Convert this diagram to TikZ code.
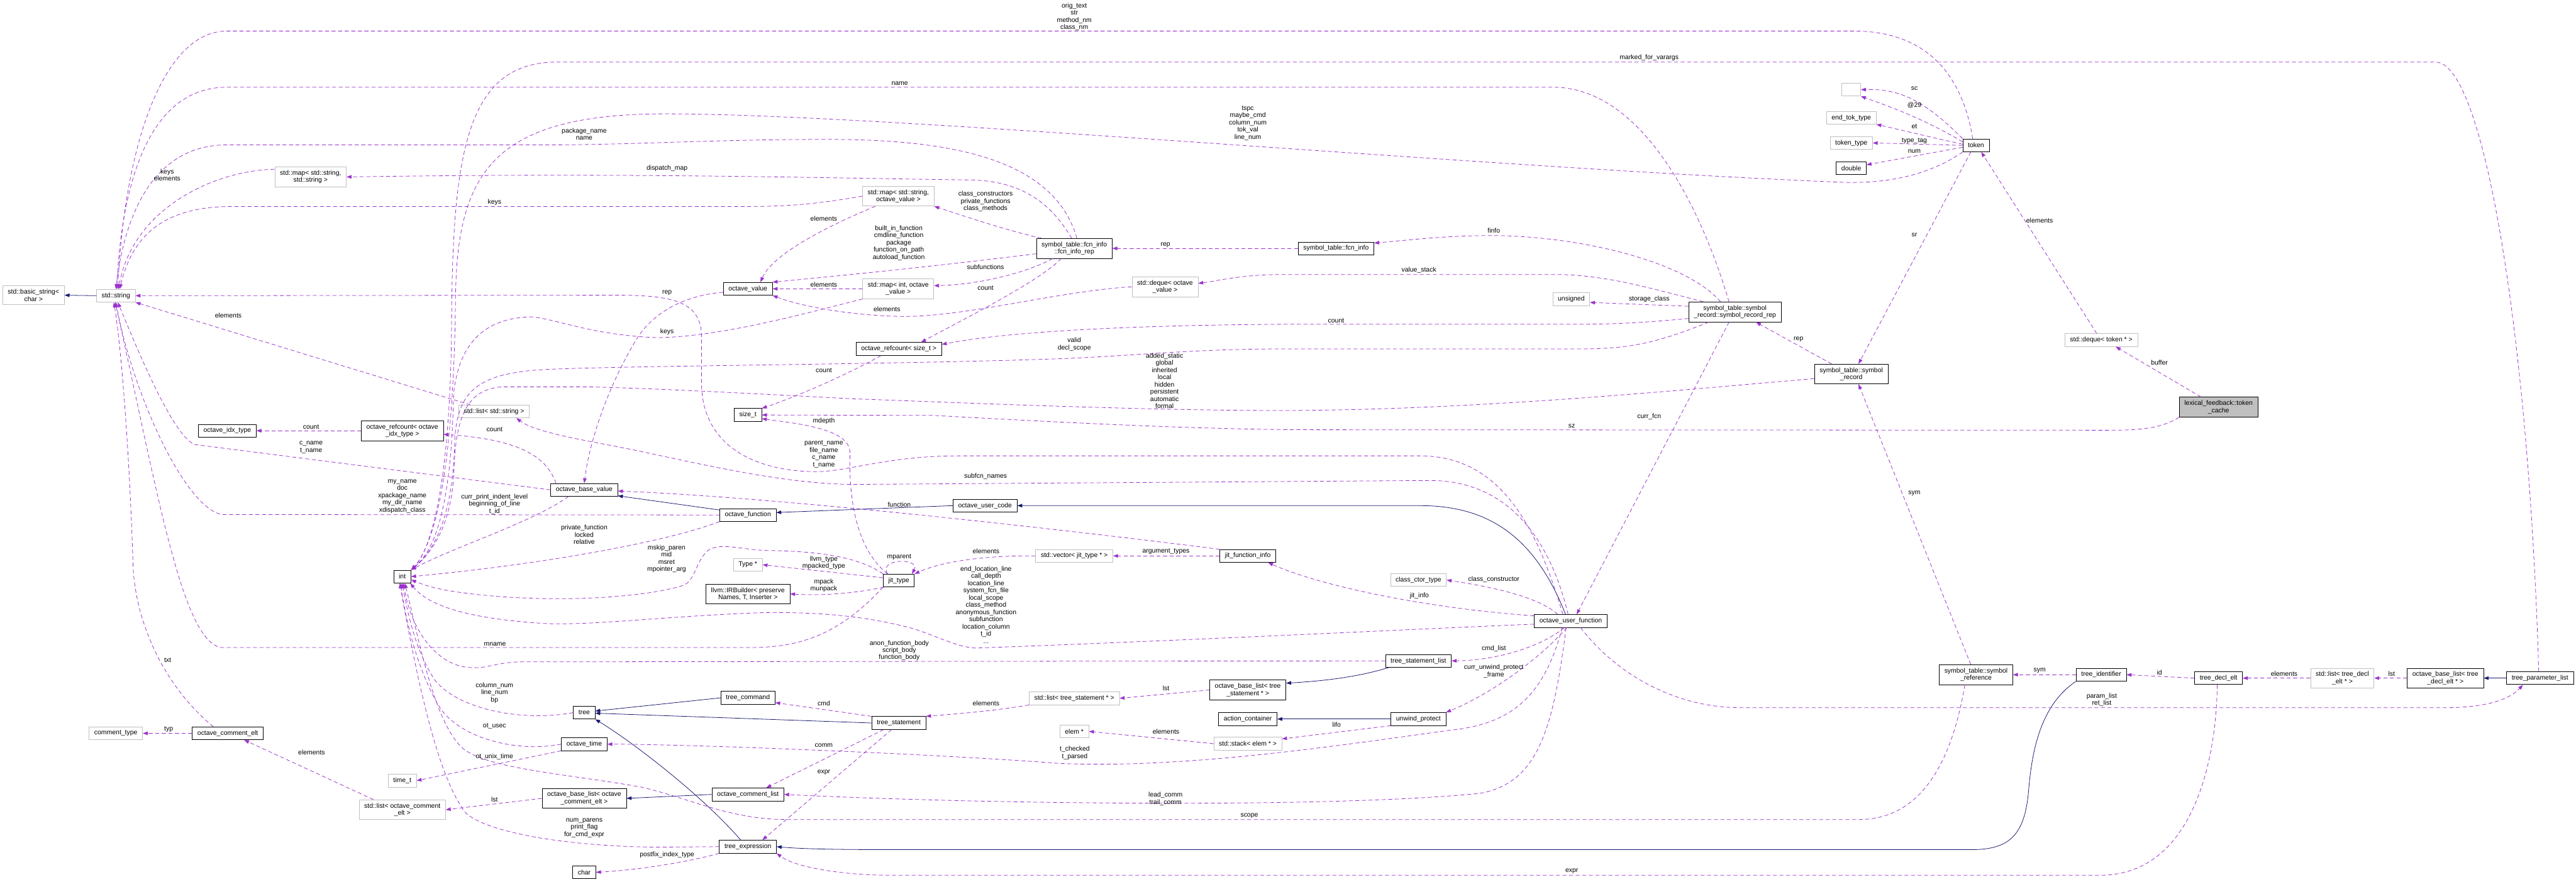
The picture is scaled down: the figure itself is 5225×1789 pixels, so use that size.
\documentclass[tikz,border=0pt]{standalone}
\usepackage{fontspec}
\setmainfont{Liberation Sans}
\usetikzlibrary{arrows.meta}
\definecolor{orchidedge}{HTML}{9A32CD}
\definecolor{navyedge}{HTML}{191970}
\definecolor{greyseventyfive}{HTML}{BFBFBF}
\tikzset{every picture/.style={line width=0.75pt}}
\tikzset{
  docbox/.style={draw=black, fill=white, align=center, font=\fontsize{10}{11}\selectfont, inner xsep=7.8pt, inner ysep=5pt, minimum height=19.5pt},
  extbox/.style={docbox, draw=greyseventyfive},
  rootbox/.style={docbox, fill=greyseventyfive},
  member/.style={draw=orchidedge, dash pattern=on 6pt off 4pt, -{Triangle[length=7.5pt,width=5.4pt]}},
  inherit/.style={draw=navyedge, -{Triangle[length=7.5pt,width=5.4pt]}},
  edgelbl/.style={align=center, font=\fontsize{10}{11}\selectfont, inner sep=0pt},
}

\begin{document}
\begin{tikzpicture}[x=0.75pt,y=0.75pt,yscale=-1,xscale=1]
%set diagram left start at 0, and has height of 1789
\path[fill=white] (0,0) rectangle (5225,1789);
\useasboundingbox (0,0) rectangle (5225,1789);

%Shape: Rectangle [classes, left part]
\node[extbox] (bstr) at (68,599) {std::basic\_string<\\char >};
\node[extbox] (str) at (235,600) {std::string};
\node[extbox] (mapss) at (630,359) {std::map< std::string,\\std::string >};
\node[extbox] (lststr) at (1002,835) {std::list< std::string >};
\node[docbox] (idxt) at (461,874) {octave\_idx\_type};
\node[docbox] (rcidx) at (816,874) {octave\_refcount< octave\\\_idx\_type >};
\node[docbox] (obv) at (1185,994) {octave\_base\_value};
\node[docbox] (inttype) at (816,1170) {int};
\node[extbox] (cmtype) at (235,1488) {comment\_type};
\node[docbox] (cmelt) at (462,1488) {octave\_comment\_elt};
\node[extbox] (timet) at (816,1584) {time\_t};
\node[extbox] (lstcm) at (816,1643) {std::list< octave\_comment\\\_elt >};
\node[docbox] (oblcm) at (1185,1620) {octave\_base\_list< octave\\\_comment\_elt >};
\node[docbox] (tree) at (1185,1446) {tree};
\node[docbox] (otime) at (1185,1510) {octave\_time};
\node[docbox] (chr) at (1185,1770) {char};

%Shape: Rectangle [classes, middle part]
\node[extbox] (mapsov) at (1822,398) {std::map< std::string,\\octave\_value >};
\node[docbox] (fir) at (2179,504) {symbol\_table::fcn\_info\\::fcn\_info\_rep};
\node[docbox] (ov) at (1517,586) {octave\_value};
\node[extbox] (mapiov) at (1822,586) {std::map< int, octave\\\_value >};
\node[extbox] (dqov) at (2363,582) {std::deque< octave\\\_value >};
\node[docbox] (rcsz) at (1823,708) {octave\_refcount< size\_t >};
\node[docbox] (sizet) at (1517,842) {size\_t};
\node[docbox] (ouc) at (1998,1026) {octave\_user\_code};
\node[docbox] (ofn) at (1517,1045) {octave\_function};
\node[extbox] (typep) at (1517,1146) {Type *};
\node[docbox] (jit) at (1823,1178) {jit\_type};
\node[extbox] (vecjit) at (2179,1128) {std::vector< jit\_type * >};
\node[docbox] (jfi) at (2531,1128) {jit\_function\_info};
\node[docbox] (irb) at (1517,1205) {llvm::IRBuilder< preserve\\Names, T, Inserter >};
\node[docbox] (tcmd) at (1517,1416) {tree\_command};
\node[docbox] (tstmt) at (1823,1467) {tree\_statement};
\node[extbox] (lststmt) at (2179,1417) {std::list< tree\_statement * >};
\node[docbox] (oblstmt) at (2531,1400) {octave\_base\_list< tree\\\_statement * >};
\node[docbox] (actc) at (2531,1459) {action\_container};
\node[extbox] (elem) at (2179,1484) {elem *};
\node[extbox] (stk) at (2531,1509) {std::stack< elem * >};
\node[docbox] (ocl) at (1517,1612) {octave\_comment\_list};
\node[docbox] (texpr) at (1517,1718) {tree\_expression};

%Shape: Rectangle [classes, right part]
\node[docbox] (fi) at (2710,504) {symbol\_table::fcn\_info};
\node[extbox] (unsig) at (3187,607) {unsigned};
\node[extbox, minimum width=28.5pt] (blank) at (3755,182) {};
\node[extbox] (endtok) at (3755,239) {end\_tok\_type};
\node[extbox] (toktype) at (3755,290) {token\_type};
\node[docbox] (dbl) at (3755,341) {double};
\node[docbox] (token) at (4008,295) {token};
\node[docbox] (srr) at (3519,633) {symbol\_table::symbol\\\_record::symbol\_record\_rep};
\node[docbox] (symrec) at (3755,759) {symbol\_table::symbol\\\_record};
\node[extbox] (dqtok) at (4262,690) {std::deque< token * >};
\node[rootbox] (tcache) at (4500,826) {lexical\_feedback::token\\\_cache};
\node[extbox] (cctor) at (2877,1177) {class\_ctor\_type};
\node[docbox] (ouf) at (3186,1260) {octave\_user\_function};
\node[docbox] (tsl) at (2877,1341) {tree\_statement\_list};
\node[docbox] (unw) at (2877,1459) {unwind\_protect};
\node[docbox] (symref) at (4008,1369) {symbol\_table::symbol\\\_reference};
\node[docbox] (tid) at (4262,1369) {tree\_identifier};
\node[docbox] (tde) at (4500,1376) {tree\_decl\_elt};
\node[extbox] (lstde) at (4751,1376) {std::list< tree\_decl\\\_elt * >};
\node[docbox] (oblde) at (4960,1376) {octave\_base\_list< tree\\\_decl\_elt * >};
\node[docbox] (tpl) at (5152,1376) {tree\_parameter\_list};

%Straight Lines [inheritance]
\draw[inherit] (str.west) -- (bstr.east);
\draw[inherit] (ofn.170) -- (obv.-10);
\draw[inherit] (ouc.west) -- (ofn.5);
\draw[inherit] ([xshift=-8pt]ouf.north) .. controls (3110,1080) and (3010,1026) .. (2880,1026) -- (ouc.east);
\draw[inherit] (tcmd.west) -- (tree.8);
\draw[inherit] (tstmt.west) -- (tree.-3);
\draw[inherit] ([xshift=-11pt]texpr.north) .. controls (1430,1620) and (1290,1510) .. (tree.south east);
\draw[inherit] (tid.south west) .. controls (4140,1430) and (4122,1520) .. (4115,1600) .. controls (4108,1690) and (4080,1724) .. (4000,1724) -- (1800,1724) .. controls (1680,1724) and (1620,1722) .. (texpr.east);
\draw[inherit] (tpl.west) -- (oblde.east);
\draw[inherit] ([xshift=-45pt]tsl.south) .. controls (2750,1375) and (2680,1382) .. (oblstmt.10);
\draw[inherit] (unw.west) -- (actc.east);
\draw[inherit] (ocl.west) -- (oblcm.east);

%Curve Lines [members, to std::string]
\draw[member] ([xshift=-5pt]token.north) .. controls (3985,180) and (3930,63) .. (3760,63) -- (460,63) .. controls (330,63) and (252,300) .. ([xshift=3pt]str.north);
\draw[member] ([xshift=-9pt]srr.north) .. controls (3450,420) and (3330,177) .. (3150,177) -- (460,177) .. controls (320,177) and (250,330) .. ([xshift=1pt]str.north);
\draw[member] ([xshift=4pt]fir.north) .. controls (2140,330) and (1950,285) .. (1700,283) .. controls (1450,282) and (1300,294) .. (1100,294) -- (460,294) .. controls (320,294) and (255,420) .. (str.north);
\draw[member] (mapss.168) .. controls (440,345) and (270,420) .. ([xshift=4pt]str.north);
\draw[member] (mapsov.west) .. controls (1650,415) and (1600,419) .. (1500,419) -- (470,419) .. controls (330,419) and (268,480) .. ([xshift=6pt]str.north);
\draw[member] ([xshift=-12pt]ouf.north) .. controls (3120,1080) and (3050,925) .. (2880,925) -- (1944,925) .. controls (1800,925) and (1720,957) .. (1656,957) .. controls (1540,957) and (1425,910) .. (1423,780) -- (1423,680) .. controls (1421,610) and (1360,599) .. (1250,599) -- (str.east);
\draw[member] ([xshift=-36pt]lststr.north) -- (str.south east);
\draw[member] (obv.west) -- (395,902) .. controls (350,885) and (275,700) .. ([xshift=3pt]str.south);
\draw[member] (ofn.west) -- (450,1044) .. controls (375,1030) and (270,800) .. (str.south);
\draw[member] ([xshift=-22pt]cmelt.north) .. controls (330,1390) and (275,1260) .. (270,1150) .. controls (262,900) and (245,700) .. ([xshift=-3pt]str.south);
\draw[member] (jit.south west) .. controls (1700,1290) and (1620,1314) .. (1520,1314) -- (450,1314) .. controls (370,1305) and (320,1000) .. ([xshift=-1pt]str.south);
\draw[member] ([xshift=-4pt]fir.north) .. controls (2130,410) and (2070,365) .. (1960,365) .. controls (1700,362) and (1300,350) .. (mapss.east);

%Curve Lines [members, to int]
\draw[member] ([xshift=-2pt]tpl.north) .. controls (5130,700) and (5040,126) .. (4940,126) -- (1130,126) .. controls (950,126) and (918,300) .. (916,650) .. controls (914,1000) and (870,1120) .. (inttype.north east);
\draw[member] (token.south west) .. controls (3900,365) and (3800,372) .. (3740,370) .. controls (3000,340) and (1800,231) .. (1350,231) .. controls (1000,231) and (928,350) .. (924,600) .. controls (920,1000) and (872,1115) .. (inttype.north east);
\draw[member] ([xshift=-40pt]srr.south) .. controls (3350,700) and (3300,708) .. (3194,708) -- (2600,708) .. controls (2420,708) and (2300,722) .. (2148,728) .. controls (1800,740) and (1250,742) .. (1102,750) .. controls (960,758) and (926,800) .. (922,900) .. controls (919,1050) and (878,1120) .. (inttype.north east);
\draw[member] (symrec.187) .. controls (3400,792) and (3000,832) .. (2600,833) .. controls (2300,833) and (1900,815) .. (1724,809) .. controls (1500,797) and (1300,787) .. (1187,785) -- (1018,785) .. controls (950,790) and (925,840) .. (921,950) .. controls (918,1060) and (878,1120) .. (inttype.north east);
\draw[member] (mapiov.south west) .. controls (1620,640) and (1450,685) .. (1330,685) .. controls (1200,680) and (1120,645) .. (1077,643) .. controls (980,645) and (930,700) .. (920,800) .. controls (915,1050) and (876,1120) .. (inttype.north east);
\draw[member] ([xshift=-24pt]obv.south) .. controls (1080,1060) and (920,1110) .. (inttype.north east);
\draw[member] (ofn.south west) .. controls (1350,1100) and (1100,1145) .. (inttype.east);
\draw[member] (jit.north west) .. controls (1740,1128) and (1650,1118) .. (1554,1117) .. controls (1500,1115) and (1462,1100) .. (1436,1117) .. controls (1410,1140) and (1410,1180) .. (1385,1188) .. controls (1300,1215) and (1100,1225) .. (933,1202) .. controls (880,1195) and (855,1185) .. (inttype.-20);
\draw[member] (ouf.185) .. controls (2900,1275) and (2400,1300) .. (1978,1315) .. controls (1940,1313) and (1900,1290) .. (1850,1275) .. controls (1750,1248) and (1650,1242) .. (1550,1243) .. controls (1350,1250) and (1200,1270) .. (1102,1265) .. controls (950,1255) and (870,1230) .. (inttype.-40);
\draw[member] (tsl.west) -- (1060,1343) .. controls (1000,1343) and (985,1362) .. (935,1352) .. controls (870,1335) and (830,1260) .. ([xshift=2pt]inttype.south);
\draw[member] (tree.west) .. controls (1060,1465) and (930,1440) .. (882,1380) .. controls (842,1320) and (826,1240) .. (inttype.south);
\draw[member] (otime.west) .. controls (1050,1527) and (940,1500) .. (895,1440) .. controls (850,1370) and (822,1260) .. ([xshift=-2pt]inttype.south);
\draw[member] (texpr.west) -- (1330,1719) .. controls (1150,1717) and (990,1690) .. (945,1650) .. controls (890,1580) and (850,1400) .. ([xshift=-4pt]inttype.south);
\draw[member] ([xshift=-17pt]symref.south) .. controls (3960,1540) and (3900,1663) .. (3770,1663) -- (1597,1663) .. controls (1480,1663) and (1400,1620) .. (1300,1597) .. controls (1150,1570) and (980,1560) .. (935,1515) .. controls (880,1460) and (850,1300) .. ([xshift=4pt]inttype.south);

%Curve Lines [members, octave_value and symbol tables]
\draw[member] ([xshift=-35pt]mapsov.south) .. controls (1700,450) and (1570,510) .. ([xshift=19pt]ov.north);
\draw[member] (fir.188) .. controls (1900,540) and (1700,560) .. (ov.north east);
\draw[member] ([xshift=-50pt]fir.north) .. controls (2050,470) and (1960,440) .. (mapsov.south east);
\draw[member] ([xshift=-33pt]fir.south) .. controls (2080,555) and (1980,578) .. (mapiov.5);
\draw[member] ([xshift=-20pt]fir.south) .. controls (2110,570) and (1950,650) .. ([xshift=34pt]rcsz.north);
\draw[member] (mapiov.west) -- (ov.east);
\draw[member] (dqov.west) .. controls (2150,590) and (1950,645) .. (1826,642) .. controls (1720,640) and (1620,620) .. (ov.south east);
\draw[member] (fi.west) -- (fir.east);
\draw[member] ([xshift=-22pt]srr.north) .. controls (3420,530) and (3200,478) .. (3024,478) .. controls (2930,478) and (2850,488) .. (fi.8);
\draw[member] ([xshift=-48pt]srr.north) .. controls (3330,580) and (3250,557) .. (3150,557) -- (2600,557) .. controls (2520,557) and (2470,570) .. (dqov.6);
\draw[member] (srr.173) -- (unsig.-10);
\draw[member] (srr.188) .. controls (3300,658) and (3250,658) .. (3150,658) -- (2600,658) .. controls (2300,660) and (2050,672) .. (rcsz.6);
\draw[member] ([xshift=-30pt]symrec.north) -- ([xshift=32pt]srr.south);
\draw[member] ([xshift=-9pt]srr.south) -- ([xshift=9pt]ouf.north);
\draw[member] (ov.188) .. controls (1380,600) and (1320,640) .. (1290,690) .. controls (1230,790) and (1195,900) .. (obv.north);
\draw[member] (jfi.north west) .. controls (2200,1080) and (1600,1010) .. (obv.-2);
\draw[member] (rcidx.west) -- (idxt.east);
\draw[member] ([xshift=-43pt]obv.north) .. controls (1110,930) and (1060,892) .. (rcidx.-5);
\draw[member] ([xshift=-27pt]rcsz.south) .. controls (1700,770) and (1600,810) .. (sizet.north east);

%Curve Lines [members, token]
\draw[member] (token.north west) .. controls (3900,200) and (3850,180) .. (blank.east);
\draw[member] (token.165) .. controls (3900,240) and (3830,215) .. (blank.south east);
\draw[member] (token.175) .. controls (3900,275) and (3850,262) .. (endtok.south east);
\draw[member] (token.west) -- (toktype.east);
\draw[member] (token.188) -- (dbl.12);
\draw[member] ([xshift=-8pt]token.south) -- ([xshift=11pt]symrec.north);
\draw[member] ([xshift=-7pt]dqtok.north) -- ([xshift=8pt]token.south);
\draw[member] ([xshift=-27pt]tcache.north) -- ([xshift=22pt]dqtok.south);
\draw[member] (tcache.south west) .. controls (4380,872) and (4330,873) .. (4270,873) -- (2630,872) .. controls (2400,870) and (2150,857) .. (1894,843) -- (sizet.east);

%Curve Lines [members, jit]
\draw[member] ([xshift=-17pt]jit.north) .. controls (1732,1110) and (1722,1000) .. (1724,920) .. controls (1726,870) and (1620,860) .. (sizet.-15);
\draw[member] (jit.170) -- (typep.east);
\draw[member] ([xshift=-23pt]jit.south) .. controls (1730,1205) and (1660,1209) .. (irb.east);
\draw[member] (vecjit.west) .. controls (2020,1127) and (1920,1135) .. (jit.north east);
\draw[member] (jfi.west) -- (vecjit.east);
\draw[member] ([xshift=-17pt]jit.north) .. controls (1780,1132) and (1868,1132) .. ([xshift=20pt]jit.north);

%Curve Lines [members, tree and user function]
\draw[member] (symref.north) ++(-8pt,0) -- ([xshift=11pt]symrec.south);
\draw[member] (tid.west) -- (symref.east);
\draw[member] (tde.west) -- (tid.east);
\draw[member] (lstde.west) -- (tde.east);
\draw[member] (oblde.west) -- (lstde.east);
\draw[member] ([xshift=15pt]ouf.south) .. controls (3280,1370) and (3400,1436) .. (3530,1436) -- (4960,1436) .. controls (5040,1436) and (5090,1420) .. ([xshift=-26pt]tpl.south);
\draw[member] ([xshift=-2pt]tde.south) .. controls (4495,1560) and (4440,1776) .. (4260,1776) -- (1809,1776) .. controls (1700,1776) and (1610,1758) .. (texpr.south east);
\draw[member] (tstmt.north west) -- (tcmd.-10);
\draw[member] ([xshift=-23pt]tstmt.south) -- ([xshift=28pt]ocl.north);
\draw[member] ([xshift=-11pt]tstmt.south) -- ([xshift=22pt]texpr.north);
\draw[member] (lststmt.south west) .. controls (2000,1445) and (1920,1450) .. (tstmt.north east);
\draw[member] (oblstmt.west) -- (lststmt.east);
\draw[member] (unw.south west) -- (stk.8);
\draw[member] (stk.west) -- (elem.east);
\draw[member] ([xshift=-6pt]ouf.south) .. controls (3120,1340) and (3020,1410) .. (unw.north east);
\draw[member] ([xshift=-10pt]ouf.south) .. controls (3130,1310) and (3040,1340) .. (tsl.east);
\draw[member] ([xshift=-20pt]ouf.north) .. controls (3120,1210) and (3020,1190) .. (cctor.east);
\draw[member] (ouf.172) .. controls (2900,1235) and (2680,1190) .. ([xshift=-12pt]jfi.south east);
\draw[member] ([xshift=-4pt]ouf.north) .. controls (3140,1080) and (3050,975) .. (2900,975) -- (1724,983) .. controls (1600,980) and (1480,955) .. (1300,916) .. controls (1200,895) and (1090,880) .. ([xshift=34pt]lststr.south);
\draw[member] ([xshift=-7pt]ouf.south) .. controls (3150,1480) and (3120,1590) .. (3000,1610) .. controls (2700,1640) and (2000,1632) .. (ocl.east);
\draw[member] ([xshift=-13pt]ouf.south) .. controls (3130,1420) and (3060,1470) .. (2939,1482) .. controls (2700,1515) and (2400,1560) .. (2148,1549) .. controls (1900,1530) and (1400,1510) .. (otime.east);
\draw[member] (otime.south west) -- (timet.east);
\draw[member] (texpr.south west) .. controls (1400,1748) and (1300,1765) .. (chr.east);
\draw[member] (oblcm.west) -- (lstcm.east);
\draw[member] ([xshift=-44pt]lstcm.north) -- ([xshift=25pt]cmelt.south);
\draw[member] (cmelt.west) -- (cmtype.east);

% Text Node
\node[edgelbl] (lOrig) at (2179,34) {orig\_text\\str\\method\_nm\\class\_nm};
\node[edgelbl] (lVarargs) at (3345,117) {marked\_for\_varargs};
\node[edgelbl] (lName) at (1825,169) {name};
\node[edgelbl] (lTspc) at (2531,250) {tspc\\maybe\_cmd\\column\_num\\tok\_val\\line\_num};
\node[edgelbl] (lPkg) at (1185,272) {package\_name\\name};
\node[edgelbl] (lDispatch) at (1353,342) {dispatch\_map};
\node[edgelbl] (lKeysElem) at (339,355) {keys\\elements};
\node[edgelbl] (lKeysA) at (1003,411) {keys};
\node[edgelbl] (lClassCtors) at (1999,409) {class\_constructors\\private\_functions\\class\_methods};
\node[edgelbl] (lElemA) at (1671,444) {elements};
\node[edgelbl] (lBuiltin) at (1823,493) {built\_in\_function\\cmdline\_function\\package\\function\_on\_path\\autoload\_function};
\node[edgelbl] (lRepA) at (2364,497) {rep};
\node[edgelbl] (lSubfns) at (1999,542) {subfunctions};
\node[edgelbl] (lElemB) at (1671,578) {elements};
\node[edgelbl] (lCountA) at (1999,584) {count};
\node[edgelbl] (lRepB) at (1353,594) {rep};
\node[edgelbl] (lFinfo) at (3030,468) {finfo};
\node[edgelbl] (lValStack) at (2878,548) {value\_stack};
\node[edgelbl] (lStorage) at (3345,607) {storage\_class};
\node[edgelbl] (lSc) at (3883,179) {sc};
\node[edgelbl] (lAt) at (3883,213) {@29};
\node[edgelbl] (lEt) at (3883,256) {et};
\node[edgelbl] (lTypeTag) at (3883,286) {type\_tag};
\node[edgelbl] (lNum) at (3883,307) {num};
\node[edgelbl] (lSr) at (3883,477) {sr};
\node[edgelbl] (lElemTok) at (4137,448) {elements};
\node[edgelbl] (lBuffer) at (4380,736) {buffer};
\node[edgelbl] (lElemStr) at (463,640) {elements};
\node[edgelbl] (lCountB) at (631,866) {count};
\node[edgelbl] (lCountC) at (1003,872) {count};
\node[edgelbl] (lCname) at (631,908) {c\_name\\t\_name};
\node[edgelbl] (lMyName) at (816,1007) {my\_name\\doc\\xpackage\_name\\my\_dir\_name\\xdispatch\_class};
\node[edgelbl] (lIndent) at (1003,1023) {curr\_print\_indent\_level\\beginning\_of\_line\\t\_id};
\node[edgelbl] (lPrivate) at (1185,1085) {private\_function\\locked\\relative};
\node[edgelbl] (lElemC) at (1799,627) {elements};
\node[edgelbl] (lKeysB) at (1353,673) {keys};
\node[edgelbl] (lValid) at (2179,699) {valid\\decl\_scope};
\node[edgelbl] (lCountD) at (2710,651) {count};
\node[edgelbl] (lRepC) at (3648,688) {rep};
\node[edgelbl] (lCountE) at (1671,751) {count};
\node[edgelbl] (lStatic) at (2362,773) {added\_static\\global\\inherited\\local\\hidden\\persistent\\automatic\\formal};
\node[edgelbl] (lMdepth) at (1671,855) {mdepth};
\node[edgelbl] (lSz) at (3188,864) {sz};
\node[edgelbl] (lCurrFcn) at (3345,845) {curr\_fcn};
\node[edgelbl] (lParent) at (1671,922) {parent\_name\\file\_name\\c\_name\\t\_name};
\node[edgelbl] (lSubfcn) at (1999,967) {subfcn\_names};
\node[edgelbl] (lSymA) at (3883,1001) {sym};
\node[edgelbl] (lFunction) at (1824,1024) {function};
\node[edgelbl] (lMskip) at (1352,1134) {mskip\_paren\\mid\\msret\\mpointer\_arg};
\node[edgelbl] (lLlvmType) at (1671,1142) {llvm\_type\\mpacked\_type};
\node[edgelbl] (lMparent) at (1824,1130) {mparent};
\node[edgelbl] (lElemD) at (2000,1119) {elements};
\node[edgelbl] (lArgTypes) at (2365,1119) {argument\_types};
\node[edgelbl] (lEndLoc) at (2000,1227) {end\_location\_line\\call\_depth\\location\_line\\system\_fcn\_file\\local\_scope\\class\_method\\anonymous\_function\\subfunction\\location\_column\\t\_id\\...};
\node[edgelbl] (lMpack) at (1671,1188) {mpack\\munpack};
\node[edgelbl] (lJitInfo) at (2879,1209) {jit\_info};
\node[edgelbl] (lClassCtor) at (3030,1176) {class\_constructor};
\node[edgelbl] (lAnon) at (1824,1320) {anon\_function\_body\\script\_body\\function\_body};
\node[edgelbl] (lMname) at (1004,1307) {mname};
\node[edgelbl] (lTxt) at (340,1340) {txt};
\node[edgelbl] (lCmdList) at (3030,1316) {cmd\_list};
\node[edgelbl] (lUnwind) at (3030,1362) {curr\_unwind\_protect\\\_frame};
\node[edgelbl] (lSymB) at (4137,1361) {sym};
\node[edgelbl] (lId) at (4380,1364) {id};
\node[edgelbl] (lElemE) at (4633,1367) {elements};
\node[edgelbl] (lLstA) at (4851,1367) {lst};
\node[edgelbl] (lParam) at (4263,1420) {param\_list\\ret\_list};
\node[edgelbl] (lColumn) at (1003,1406) {column\_num\\line\_num\\bp};
\node[edgelbl] (lLstB) at (2365,1396) {lst};
\node[edgelbl] (lCmd) at (1671,1427) {cmd};
\node[edgelbl] (lElemF) at (2000,1427) {elements};
\node[edgelbl] (lUsec) at (1003,1473) {ot\_usec};
\node[edgelbl] (lLifo) at (2711,1470) {lifo};
\node[edgelbl] (lElemG) at (2365,1484) {elements};
\node[edgelbl] (lTyp) at (342,1480) {typ};
\node[edgelbl] (lComm) at (1671,1513) {comm};
\node[edgelbl] (lChecked) at (2180,1528) {t\_checked\\t\_parsed};
\node[edgelbl] (lElemH) at (632,1527) {elements};
\node[edgelbl] (lUnix) at (1003,1535) {ot\_unix\_time};
\node[edgelbl] (lExprA) at (1671,1568) {expr};
\node[edgelbl] (lLstC) at (1003,1622) {lst};
\node[edgelbl] (lLead) at (2364,1621) {lead\_comm\\trail\_comm};
\node[edgelbl] (lScope) at (2534,1655) {scope};
\node[edgelbl] (lParens) at (1185,1680) {num\_parens\\print\_flag\\for\_cmd\_expr};
\node[edgelbl] (lPostfix) at (1353,1735) {postfix\_index\_type};
\node[edgelbl] (lExprB) at (3188,1768) {expr};

\end{tikzpicture}
\end{document}
